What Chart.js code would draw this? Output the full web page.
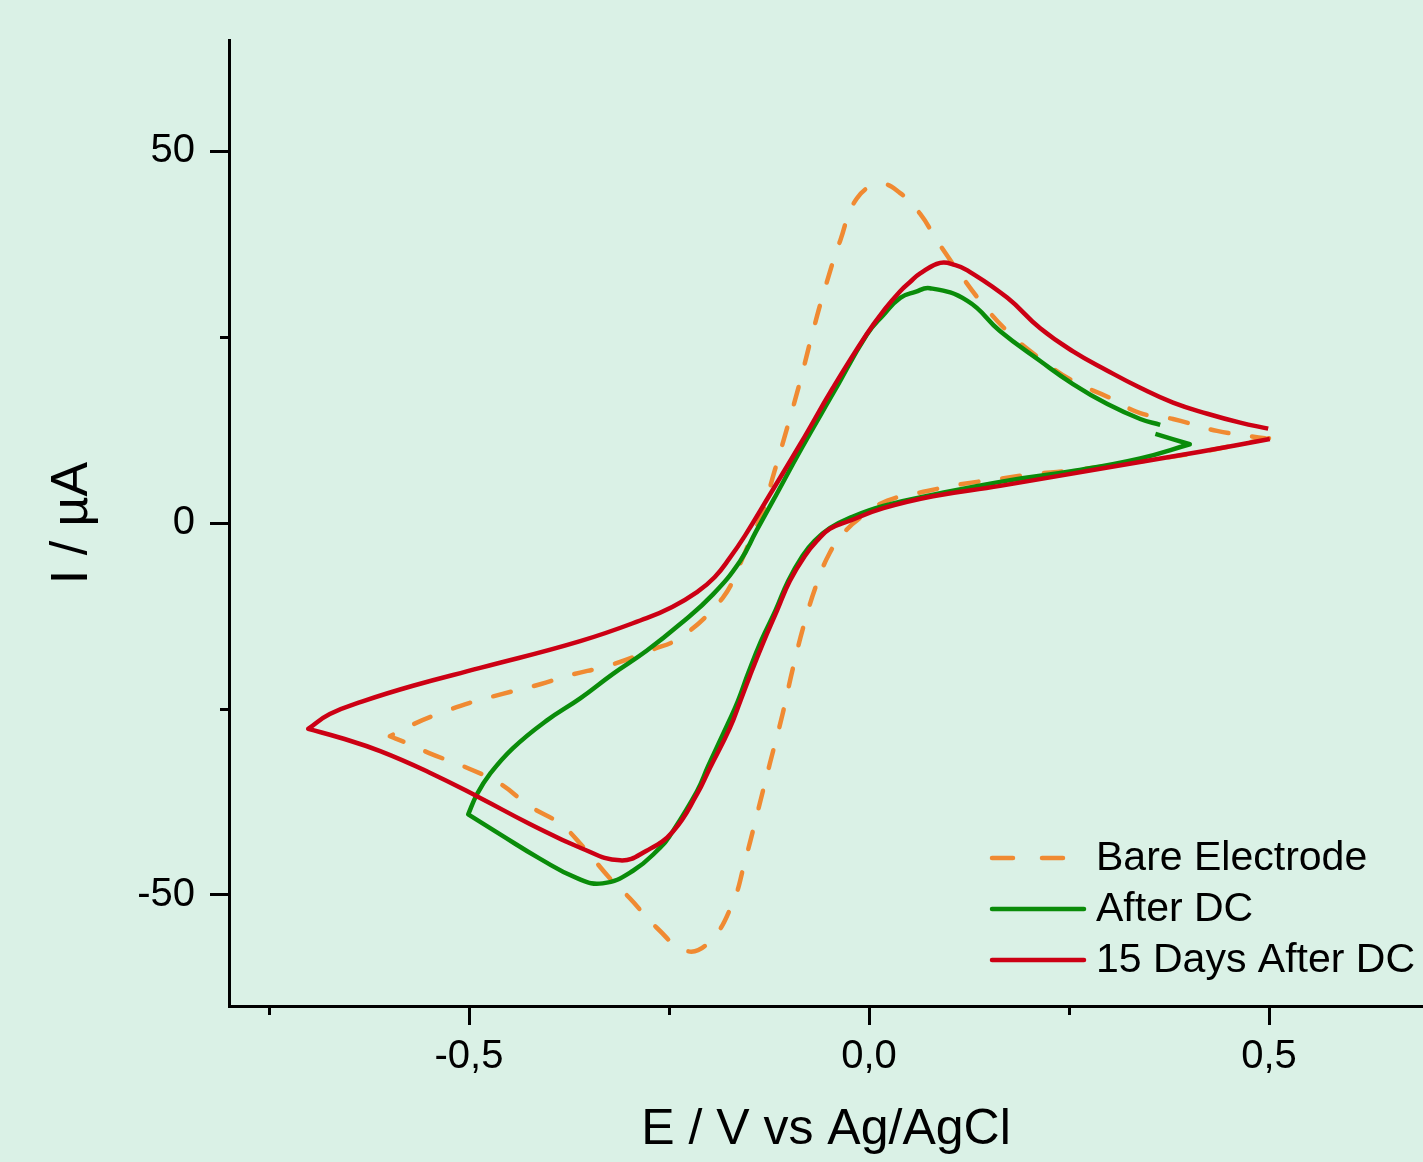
<!DOCTYPE html>
<html>
<head>
<meta charset="utf-8">
<script src="https://cdn.jsdelivr.net/npm/chart.js@4.4.0/dist/chart.umd.min.js"></script>
<style>
  html, body { margin: 0; padding: 0; background: #daf1e6; }
  canvas { display: block; }
</style>
</head>
<body>
<canvas id="cv" width="1423" height="1162"></canvas>
<script>
// E in V vs Ag/AgCl, I in µA; switching potentials appear twice
const bareE = [0.500, 0.401, 0.298, 0.248, 0.205, 0.160, 0.114, 0.073, 0.023, -0.011, -0.033, -0.049, -0.064, -0.080, -0.095, -0.108, -0.124, -0.139, -0.155, -0.171, -0.199, -0.228, -0.265, -0.299, -0.324, -0.358, -0.386, -0.424, -0.461, -0.499, -0.549, -0.578, -0.599, -0.599, -0.570, -0.536, -0.499, -0.458, -0.411, -0.378, -0.320, -0.270, -0.243, -0.224, -0.203, -0.183, -0.170, -0.161, -0.148, -0.134, -0.118, -0.101, -0.086, -0.071, -0.055, -0.036, -0.015, 0.014, 0.039, 0.064, 0.085, 0.114, 0.139, 0.173, 0.214, 0.255, 0.298, 0.339, 0.380, 0.435, 0.495];
const bareI = [11.4, 9.3, 7.7, 7.0, 6.6, 5.9, 5.2, 4.3, 3.0, 0.7, -1.5, -4.0, -7.8, -13.2, -19.5, -25.7, -32.4, -38.8, -45.5, -51.3, -56.3, -57.6, -54.5, -50.5, -47.8, -43.5, -40.5, -38.1, -35.1, -33.1, -31.0, -29.6, -28.7, -28.7, -27.1, -25.6, -24.2, -23.0, -21.7, -20.6, -19.0, -17.0, -15.9, -14.5, -12.5, -10.1, -7.8, -5.5, -2.2, 1.2, 7.0, 13.3, 19.1, 25.4, 31.6, 38.0, 43.7, 45.6, 44.4, 41.6, 38.0, 33.5, 29.9, 25.8, 22.1, 19.1, 17.0, 14.8, 14.0, 12.4, 11.4];

const dcE = [0.358, 0.401, 0.401, 0.339, 0.255, 0.173, 0.089, 0.018, -0.024, -0.049, -0.068, -0.083, -0.101, -0.117, -0.135, -0.151, -0.164, -0.176, -0.201, -0.215, -0.249, -0.261, -0.295, -0.333, -0.365, -0.411, -0.461, -0.501, -0.501, -0.490, -0.474, -0.445, -0.403, -0.361, -0.320, -0.278, -0.236, -0.195, -0.161, -0.141, -0.120, -0.084, -0.043, -0.003, 0.018, 0.039, 0.058, 0.076, 0.123, 0.164, 0.214, 0.255, 0.298, 0.339, 0.364];
const dcI = [12.0, 10.6, 10.6, 8.7, 7.0, 5.7, 4.0, 2.3, 0.7, -0.7, -2.4, -4.4, -7.8, -11.8, -15.9, -20.2, -24.0, -26.9, -32.7, -36.1, -42.1, -43.7, -46.8, -48.5, -47.8, -45.2, -41.9, -39.2, -39.2, -36.5, -33.8, -30.3, -26.6, -23.6, -20.3, -17.2, -13.6, -9.6, -5.1, -1.1, 3.0, 10.1, 17.8, 25.3, 28.0, 30.3, 31.1, 31.6, 29.9, 25.8, 21.8, 18.7, 16.0, 14.0, 13.2];

const days15E = [0.501, 0.414, 0.289, 0.164, 0.080, 0.018, -0.024, -0.049, -0.065, -0.080, -0.099, -0.115, -0.133, -0.149, -0.161, -0.174, -0.199, -0.215, -0.245, -0.278, -0.311, -0.361, -0.424, -0.486, -0.549, -0.611, -0.661, -0.701, -0.701, -0.674, -0.633, -0.570, -0.486, -0.361, -0.278, -0.246, -0.215, -0.193, -0.174, -0.155, -0.124, -0.086, -0.045, -0.003, 0.020, 0.039, 0.051, 0.064, 0.089, 0.108, 0.123, 0.173, 0.214, 0.255, 0.298, 0.339, 0.380, 0.423, 0.464, 0.499];
const days15I = [11.3, 9.6, 7.3, 5.0, 3.6, 2.0, 0.3, -0.8, -2.4, -4.4, -7.8, -11.8, -16.3, -20.6, -24.0, -27.6, -33.0, -36.5, -41.5, -44.1, -45.4, -43.7, -40.5, -37.0, -33.6, -30.7, -28.9, -27.7, -27.7, -25.7, -24.0, -21.9, -19.5, -15.9, -12.8, -11.3, -9.3, -7.3, -4.7, -1.7, 3.8, 10.6, 18.2, 25.4, 28.8, 31.2, 32.4, 33.6, 35.0, 34.7, 34.0, 30.3, 26.2, 23.1, 20.5, 18.2, 16.2, 14.7, 13.5, 12.7];

const seriesNames = ["Bare Electrode", "After DC", "15 Days After DC"];

const xTickValues = [-0.75, -0.5, -0.25, 0, 0.25, 0.5];
const xTickLabels = ["", "-0,5", "", "0,0", "", "0,5"];
const yTickValues = [-50, -25, 0, 25, 50];
const yTickLabels = ["-50", "", "0", "", "50"];

const FONT = "'Liberation Sans', Arial, sans-serif";
const BG = "#daf1e6";

function pairs(xs, ys) {
  return xs.map((x, i) => ({ x: x, y: ys[i] }));
}

const bgPlugin = {
  id: "bg",
  beforeDraw(chart) {
    const c = chart.ctx;
    c.save();
    c.fillStyle = BG;
    c.fillRect(0, 0, chart.width, chart.height);
    c.restore();
  }
};

// short minor ticks (labels are empty for these)
const minorTicks = {
  id: "minorTicks",
  afterDraw(chart) {
    const c = chart.ctx;
    const xs = chart.scales.x, ys = chart.scales.y;
    c.save();
    c.strokeStyle = "#000";
    c.lineWidth = 3;
    xTickValues.forEach((v, i) => {
      if (xTickLabels[i] !== "") return;
      const px = Math.round(xs.getPixelForValue(v)) + 0.5;
      c.beginPath();
      c.moveTo(px, xs.top);
      c.lineTo(px, xs.top + 9);
      c.stroke();
    });
    yTickValues.forEach((v, i) => {
      if (yTickLabels[i] !== "") return;
      const py = Math.round(ys.getPixelForValue(v)) + 0.5;
      c.beginPath();
      c.moveTo(ys.right - 9, py);
      c.lineTo(ys.right, py);
      c.stroke();
    });
    c.restore();
  }
};

const legendPlugin = {
  id: "cvLegend",
  afterDatasetsDraw(chart) {
    const c = chart.ctx;
    const rows = [858, 909, 960];
    c.save();
    c.font = "41px " + FONT;
    c.textBaseline = "middle";
    c.textAlign = "left";
    chart.data.datasets.forEach((ds, i) => {
      const y = rows[i];
      c.strokeStyle = ds.borderColor;
      c.lineWidth = 4.5;
      c.lineCap = "round";
      c.setLineDash(ds.borderDash && ds.borderDash.length ? [21, 29] : []);
      c.beginPath();
      c.moveTo(992, y);
      c.lineTo(1084, y);
      c.stroke();
      c.setLineDash([]);
      c.fillStyle = "#000";
      c.fillText(ds.label, 1096, y + 1);
    });
    c.restore();
  }
};

new Chart(document.getElementById("cv"), {
  type: "scatter",
  data: {
    datasets: [
      {
        label: seriesNames[0],
        data: pairs(bareE, bareI),
        borderColor: "#f08a32",
        borderWidth: 4.5,
        borderDash: [18, 24],
        borderCapStyle: "round",
        order: 3
      },
      {
        label: seriesNames[1],
        data: pairs(dcE, dcI),
        borderColor: "#0a8c0a",
        borderWidth: 4.5,
        order: 2
      },
      {
        label: seriesNames[2],
        data: pairs(days15E, days15I),
        borderColor: "#cc0014",
        borderWidth: 4.5,
        order: 1
      }
    ]
  },
  options: {
    responsive: false,
    animation: false,
    showLine: true,
    elements: {
      point: { radius: 0, hoverRadius: 0 },
      line: { tension: 0.45, fill: false, borderJoinStyle: "round" }
    },
    layout: { padding: { top: 40, right: 0, left: 0, bottom: 0 } },
    plugins: {
      legend: { display: false },
      tooltip: { enabled: false }
    },
    scales: {
      x: {
        type: "linear",
        min: -0.8,
        max: 0.6925,
        afterBuildTicks: (axis) => { axis.ticks = xTickValues.map(v => ({ value: v })); },
        afterFit: (axis) => { axis.height = 156; },
        border: { display: true, color: "#000", width: 3 },
        grid: {
          drawOnChartArea: false,
          drawTicks: true,
          tickLength: 19,
          tickWidth: 3,
          tickColor: (ctx) => (xTickLabels[ctx.index] === "" ? "rgba(0,0,0,0)" : "#000")
        },
        ticks: {
          autoSkip: false,
          maxRotation: 0,
          padding: 8,
          color: "#000",
          font: { family: FONT, size: 40 },
          callback: (v, i) => xTickLabels[i]
        },
        title: {
          display: true,
          text: "E / V vs Ag/AgCl",
          color: "#000",
          font: { family: FONT, size: 50 },
          padding: { top: 0, bottom: 2 }
        }
      },
      y: {
        type: "linear",
        min: -65,
        max: 65,
        afterBuildTicks: (axis) => { axis.ticks = yTickValues.map(v => ({ value: v })); },
        afterFit: (axis) => { axis.width = 229; },
        border: { display: true, color: "#000", width: 3 },
        grid: {
          drawOnChartArea: false,
          drawTicks: true,
          tickLength: 19,
          tickWidth: 3,
          tickColor: (ctx) => (yTickLabels[ctx.index] === "" ? "rgba(0,0,0,0)" : "#000")
        },
        ticks: {
          autoSkip: false,
          padding: 15,
          color: "#000",
          font: { family: FONT, size: 40 },
          callback: (v, i) => yTickLabels[i]
        },
        title: {
          display: true,
          text: "I / µA",
          color: "#000",
          font: { family: FONT, size: 52 },
          padding: { top: 41, bottom: 0 }
        }
      }
    }
  },
  plugins: [bgPlugin, minorTicks, legendPlugin]
});
</script>
</body>
</html>
